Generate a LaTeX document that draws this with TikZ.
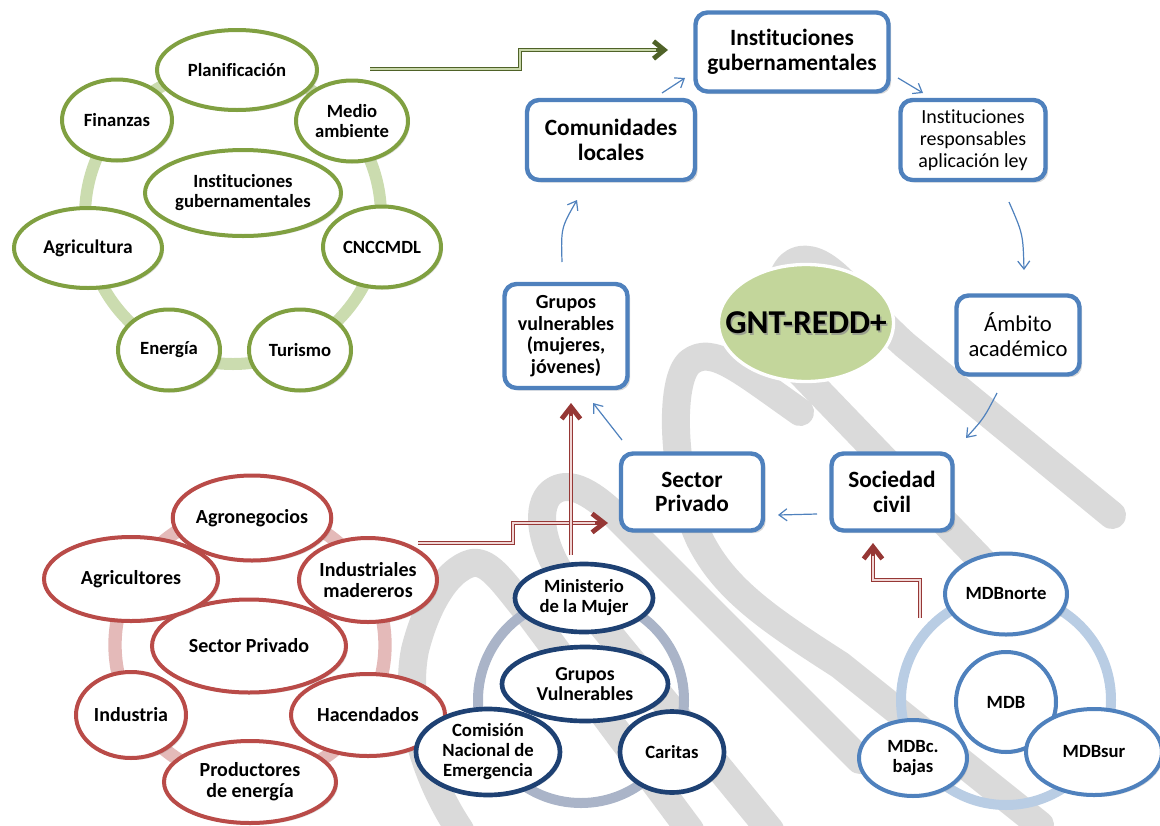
\documentclass[tikz,border=0pt]{standalone}
\usepackage{fontspec}
\setmainfont{Carlito}[Ligatures={NoCommon}]
\usetikzlibrary{arrows.meta,shapes.geometric,shadows,calc}
\definecolor{gbord}{RGB}{128,160,65}
\definecolor{gring}{RGB}{203,220,175}
\definecolor{gdark}{RGB}{79,98,40}
\definecolor{glight}{RGB}{200,215,170}
\definecolor{rbord}{RGB}{185,75,72}
\definecolor{rring}{RGB}{228,186,185}
\definecolor{rdark}{RGB}{150,55,53}
\definecolor{rlight}{RGB}{240,215,214}
\definecolor{nbord}{RGB}{30,65,115}
\definecolor{nring}{RGB}{170,180,200}
\definecolor{bbord}{RGB}{79,129,189}
\definecolor{bring}{RGB}{185,205,228}
\definecolor{gntfill}{RGB}{195,214,155}
\definecolor{wmgray}{RGB}{218,218,218}
\begin{document}
\begin{tikzpicture}[x=0.75pt,y=-0.75pt,
  sz/.style 2 args={minimum width={#1*0.75pt}, minimum height={#2*0.75pt}},
  ell/.style={ellipse, draw=#1, line width=3pt, fill=white, inner sep=0pt, align=center,
    font=\fontsize{14}{15}\selectfont\bfseries,
    drop shadow={opacity=0.25, shadow xshift=1.5pt, shadow yshift=-1.5pt}},
  rfont/.style={font=\fontsize{15}{15.8}\selectfont\bfseries},
  ringc/.style={circle, draw=#1, inner sep=0pt},
  box/.style={rectangle, rounded corners=9pt, draw=bbord, line width=3.3pt, fill=white,
    align=center, inner sep=0pt,
    drop shadow={opacity=0.3, shadow xshift=2pt, shadow yshift=-2pt}},
  bigb/.style={font=\fontsize{17.5}{18.5}\selectfont\bfseries},
  barr/.style={draw=bbord, line width=0.9pt, -{Straight Barb[length=6pt,width=9pt]}},
  rarr/.style={draw=rdark, line width=3.6pt, line join=miter,
    -{Straight Barb[length=9pt,width=14pt]},
    postaction={draw=rlight, line width=1pt, arrows=-, shorten >=10pt}},
  garr/.style={draw=gdark, line width=3.6pt, line join=miter,
    -{Straight Barb[length=8pt,width=13pt]},
    postaction={draw=glight, line width=1pt, arrows=-, shorten >=9pt}},
  wm/.style={draw=wmgray, line width=21pt, line cap=round, line join=round}
]
\useasboundingbox (0,0) rectangle (1160,825);

% watermark
\begin{scope}
\clip (0,0) rectangle (1160,825);
\draw[wm] (1112,515) -- (905,345) .. controls (855,300) and (830,255) .. (800,260)
  .. controls (772,266) and (772,330) .. (800,372) -- (1010,590);
\draw[wm] (800,412) .. controls (740,370) and (712,345) .. (690,362)
  .. controls (668,380) and (672,480) .. (700,540)
  .. controls (725,590) and (770,620) .. (840,665) -- (1040,825);
\draw[wm] (860,760) -- (620,520) .. controls (595,495) and (570,478) .. (552,492)
  .. controls (535,505) and (540,545) .. (565,580) -- (770,830);
\draw[wm] (690,830) -- (530,615) .. controls (505,585) and (490,560) .. (472,563)
  .. controls (445,570) and (425,610) .. (415,650)
  .. controls (405,700) and (420,770) .. (460,830);
\end{scope}

% green cluster
\node[ringc=gring, line width=9pt, minimum size=296*0.75pt] (rg) at (233,216) {};
\node[ell=gbord, sz={196}{86}] (igc) at (243,193) {Instituciones\\gubernamentales};
\node[ell=gbord, sz={160}{80}] (pl) at (237,70) {Planificación};
\node[ell=gbord, sz={110}{81}] (fi) at (117,120) {Finanzas};
\node[ell=gbord, sz={112}{81}] (ma) at (352,121) {Medio\\ambiente};
\node[ell=gbord, sz={148}{80}, font=\fontsize{14.6}{15.5}\selectfont\bfseries] (ag) at (88,248) {Agricultura};
\node[ell=gbord, sz={118}{81}] (cn) at (382,247) {CNCCMDL};
\node[ell=gbord, sz={102}{81}] (en) at (169,350) {Energía};
\node[ell=gbord, sz={102}{81}] (tu) at (300,350) {Turismo};

% cycle boxes
\node[box, bigb, sz={193}{79}] (ig) at (792,52) {Instituciones\\gubernamentales};
\node[box, bigb, sz={168}{80}] (cl) at (611,140) {Comunidades\\locales};
\node[box, sz={145}{80}, font=\fontsize{15}{16.3}\selectfont] (ir) at (973,140) {Instituciones\\responsables\\aplicación ley};
\node[box, sz={123}{79}, font=\fontsize{17}{18.8}\selectfont] (am) at (1018,335) {Ámbito\\académico};
\node[box, sz={123}{104}, font=\fontsize{15}{16.3}\selectfont\bfseries] (gv) at (566,336) {Grupos\\vulnerables\\(mujeres,\\jóvenes)};
\node[box, bigb, sz={142}{77}] (sp) at (692,492) {Sector\\Privado};
\node[box, bigb, sz={121}{77}] (sc) at (892,492) {Sociedad\\civil};

% central ellipse
\node[ellipse, fill=gntfill, draw=white, line width=2.5pt, sz={175}{117}] (gnt) at (806,323) {};
\node[font=\fontsize{25}{26}\selectfont\bfseries, text=black!45, opacity=0.7] (gnts) at ($(gnt)+(1.5,2)$) {GNT-REDD+};
\node[font=\fontsize{25}{26}\selectfont\bfseries] (gntt) at (gnt) {GNT-REDD+};

% green arrow
\coordinate (gs) at (370,69);
\draw[garr] (gs) -- ++(150,0) -- ++(0,-19) -- ($(ig)+(-124,-2)$);

% blue cycle arrows
\draw[barr] ($(cl)+(51,-47)$) -- ($(ig)+(-107,26)$);
\draw[barr] ($(ig)+(106,26)$) -- ($(ir)+(-50,-47)$);
\draw[barr] ($(ir)+(36,62)$) .. controls (1023,234) .. ($(am)+(6,-65)$);
\draw[barr] ($(am)+(-21,58)$) .. controls (984,418) .. ($(sc)+(74,-54)$);
\draw[barr] ($(sc)+(-75,22)$) -- ($(sp)+(86,23)$);
\draw[barr] ($(sp)+(-70,-52)$) -- ($(gv)+(27,67)$);
\draw[barr] ($(gv)+(-4,-74)$) .. controls (561,228) .. ($(cl)+(-34,60)$);

% red cluster
\node[ringc=rring, line width=10pt, minimum size=270*0.75pt] (rr) at (250,645) {};
\node[ell=rbord, rfont, sz={194}{93}] (spe) at (249,646) {Sector Privado};
\node[ell=rbord, rfont, sz={155}{85}] (agn) at (252,518) {Agronegocios};
\node[ell=rbord, rfont, sz={174}{84}] (agr) at (131,579) {Agricultores};
\node[ell=rbord, rfont, sz={138}{84}] (indm) at (368,580) {Industriales\\madereros};
\node[ell=rbord, rfont, sz={154}{82}] (hac) at (368,715) {Hacendados};
\node[ell=rbord, rfont, sz={110}{86}] (ind) at (131,715) {Industria};
\node[ell=rbord, rfont, sz={172}{82}] (pro) at (250,782) {Productores\\de energía};

% navy cluster
\node[ringc=nring, line width=7.5pt, minimum size=206*0.75pt] (rn) at (581,700) {};
\node[ell=nbord, line width=3.5pt, sz={166}{74}, font=\fontsize{14.8}{15.5}\selectfont\bfseries] (gvu) at (585,684) {Grupos\\Vulnerables};
\node[ell=nbord, line width=3.5pt, sz={138}{68}] (min) at (584,598) {Ministerio\\de la Mujer};
\node[ell=nbord, line width=3.5pt, sz={144}{86}] (com) at (488,752) {Comisión\\Nacional de\\Emergencia};
\node[ell=nbord, line width=3.5pt, sz={104}{81}] (car) at (672,752) {Caritas};

% MDB cluster
\node[ringc=bring, line width=7.5pt, minimum size=210*0.75pt] (rb) at (1006,700) {};
\node[ell=bbord, sz={122}{81}] (mdbn) at (1006,594) {MDBnorte};
\node[ell=bbord, sz={100}{100}] (mdb) at (1006,702) {MDB};
\node[ell=bbord, sz={108}{76}] (mdbc) at (913,758) {MDBc.\\bajas};
\node[ell=bbord, sz={136}{86}] (mdbs) at (1094,752) {MDBsur};

% red arrows
\draw[rarr] ($(indm)+(50,-37)$) -- ++(95,0) -- ++(0,-20) -- ($(sp)+(-84,31)$);
\draw[rarr] ($(min)+(-13,-43)$) -- ($(gv)+(5,67)$);
\draw[rarr] ($(mdbn)+(-86,24)$) -- ++(0,-38) -- ++(-47,0) -- ($(sc)+(-19,51)$);
\end{tikzpicture}
\end{document}
